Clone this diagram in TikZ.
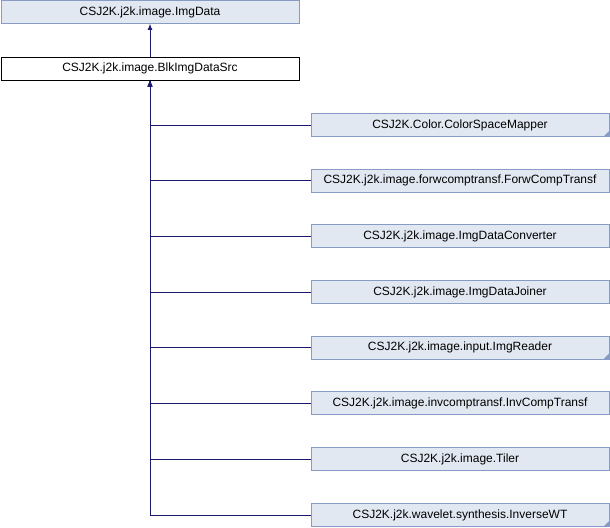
\documentclass[tikz,border=0pt]{standalone}
\usepackage{fontspec}
\setmainfont{Liberation Sans}
\usetikzlibrary{arrows.meta}
\definecolor{boxfill}{RGB}{226,232,242}
\definecolor{boxline}{RGB}{135,155,196}
\definecolor{edgecol}{RGB}{25,25,112}
\begin{document}
\begin{tikzpicture}[x=1bp,y=-1bp,
  cls/.style={draw=boxline, fill=boxfill, line width=0.8bp, minimum width=298bp, minimum height=23bp, inner sep=0pt, font=\fontsize{12bp}{14bp}\selectfont},
  curcls/.style={cls, draw=black, fill=white},
  edge/.style={draw=edgecol, line width=0.8bp, -{Latex[length=6bp,width=5bp]}},
  trunc/.style={fill=boxline}]
\useasboundingbox (0,0) rectangle (610,528);
\node[cls] (img) at (150,12) {CSJ2K.j2k.image.ImgData};
\node[curcls] (blk) at (150,68.5) {CSJ2K.j2k.image.BlkImgDataSrc};
\node[cls] (c1) at (460,125) {CSJ2K.Color.ColorSpaceMapper};
\node[cls] (c2) at (460,180.5) {CSJ2K.j2k.image.forwcomptransf.ForwCompTransf};
\node[cls] (c3) at (460,236) {CSJ2K.j2k.image.ImgDataConverter};
\node[cls] (c4) at (460,292) {CSJ2K.j2k.image.ImgDataJoiner};
\node[cls] (c5) at (460,347.5) {CSJ2K.j2k.image.input.ImgReader};
\node[cls] (c6) at (460,403) {CSJ2K.j2k.image.invcomptransf.InvCompTransf};
\node[cls] (c7) at (460,459) {CSJ2K.j2k.image.Tiler};
\node[cls] (c8) at (460,515) {CSJ2K.j2k.wavelet.synthesis.InverseWT};
\foreach \c in {c1,c5,c8}{
  \fill[trunc] ([xshift=-0.6bp,yshift=0.6bp]\c.south east) -- ++(-5,0) -- ++(5,-5) -- cycle;
}
\draw[edge] (blk) -- (img);
\foreach \c in {c1,c2,c3,c4,c5,c6,c7,c8}{
  \draw[edge] (\c.west) -| (blk.south);
}
\end{tikzpicture}
\end{document}
